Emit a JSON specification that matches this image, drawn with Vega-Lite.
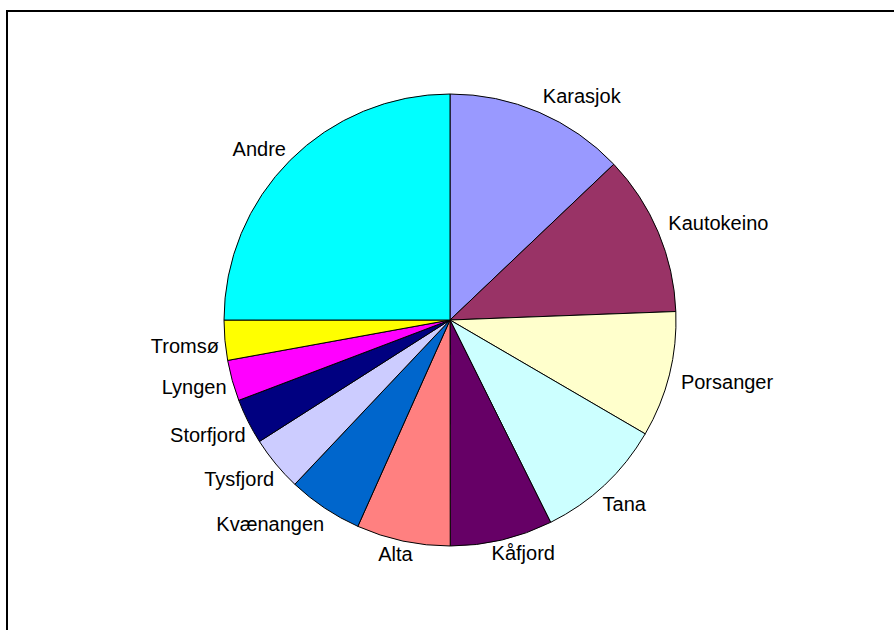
{
  "$schema": "https://vega.github.io/schema/vega-lite/v6.json",
  "autosize": {"type": "fit", "contains": "padding"},
  "width": 896,
  "height": 632,
  "padding": {"left": 7, "top": 11, "right": 3, "bottom": 3},
  "background": "white",
  "view": {"stroke": "#000000", "strokeWidth": 2, "fill": "white", "strokeDash": [887, 1502, 700]},
  "data": {
    "values": [
      {"i": 1, "name": "Karasjok", "v": 12.9},
      {"i": 2, "name": "Kautokeino", "v": 11.5},
      {"i": 3, "name": "Porsanger", "v": 9.0},
      {"i": 4, "name": "Tana", "v": 9.25},
      {"i": 5, "name": "Kåfjord", "v": 7.33},
      {"i": 6, "name": "Alta", "v": 6.7},
      {"i": 7, "name": "Kvænangen", "v": 5.36},
      {"i": 8, "name": "Tysfjord", "v": 3.92},
      {"i": 9, "name": "Storfjord", "v": 3.25},
      {"i": 10, "name": "Lyngen", "v": 2.92},
      {"i": 11, "name": "Tromsø", "v": 2.86},
      {"i": 12, "name": "Andre", "v": 25.0}
    ]
  },
  "encoding": {
    "theta": {"field": "v", "type": "quantitative", "stack": true},
    "order": {"field": "i", "type": "quantitative"}
  },
  "layer": [
    {
      "mark": {"type": "arc", "outerRadius": 226, "stroke": "#000000", "strokeWidth": 1},
      "encoding": {
        "color": {
          "field": "name",
          "type": "nominal",
          "legend": null,
          "scale": {
            "domain": ["Karasjok", "Kautokeino", "Porsanger", "Tana", "Kåfjord", "Alta", "Kvænangen", "Tysfjord", "Storfjord", "Lyngen", "Tromsø", "Andre"],
            "range": ["#9999FF", "#993366", "#FFFFCC", "#CCFFFF", "#660066", "#FF8080", "#0066CC", "#CCCCFF", "#000080", "#FF00FF", "#FFFF00", "#00FFFF"]
          }
        }
      }
    },
    {
      "mark": {"type": "text", "radius": 238, "align": "left", "baseline": "middle", "dx": -1, "dy": -4, "font": "Liberation Sans", "fontSize": 20, "color": "#000000"},
      "encoding": {"text": {"condition": {"test": "datum.i > 2", "value": ""}, "field": "name", "type": "nominal"}}
    },
    {
      "mark": {"type": "text", "radius": 238, "align": "left", "baseline": "middle", "dy": 5, "font": "Liberation Sans", "fontSize": 20, "color": "#000000"},
      "encoding": {"text": {"condition": {"test": "datum.i != 3", "value": ""}, "field": "name", "type": "nominal"}}
    },
    {
      "mark": {"type": "text", "radius": 238, "align": "left", "baseline": "middle", "dx": -10, "dy": 11, "font": "Liberation Sans", "fontSize": 20, "color": "#000000"},
      "encoding": {"text": {"condition": {"test": "datum.i != 4", "value": ""}, "field": "name", "type": "nominal"}}
    },
    {
      "mark": {"type": "text", "radius": 238, "align": "left", "baseline": "middle", "dx": -13, "dy": 2, "font": "Liberation Sans", "fontSize": 20, "color": "#000000"},
      "encoding": {"text": {"condition": {"test": "datum.i != 5", "value": ""}, "field": "name", "type": "nominal"}}
    },
    {
      "mark": {"type": "text", "radius": 232, "align": "right", "baseline": "middle", "dx": 11, "dy": 8, "font": "Liberation Sans", "fontSize": 20, "color": "#000000"},
      "encoding": {"text": {"condition": {"test": "datum.i != 6", "value": ""}, "field": "name", "type": "nominal"}}
    },
    {
      "mark": {"type": "text", "radius": 232, "align": "right", "baseline": "middle", "dx": 3, "dy": 12, "font": "Liberation Sans", "fontSize": 20, "color": "#000000"},
      "encoding": {"text": {"condition": {"test": "datum.i < 7 || datum.i > 9", "value": ""}, "field": "name", "type": "nominal"}}
    },
    {
      "mark": {"type": "text", "radius": 232, "align": "right", "baseline": "middle", "dy": 6, "font": "Liberation Sans", "fontSize": 20, "color": "#000000"},
      "encoding": {"text": {"condition": {"test": "datum.i < 10 || datum.i > 11", "value": ""}, "field": "name", "type": "nominal"}}
    },
    {
      "mark": {"type": "text", "radius": 232, "align": "right", "baseline": "middle", "dy": -6, "font": "Liberation Sans", "fontSize": 20, "color": "#000000"},
      "encoding": {"text": {"condition": {"test": "datum.i < 12", "value": ""}, "field": "name", "type": "nominal"}}
    }
  ]
}
